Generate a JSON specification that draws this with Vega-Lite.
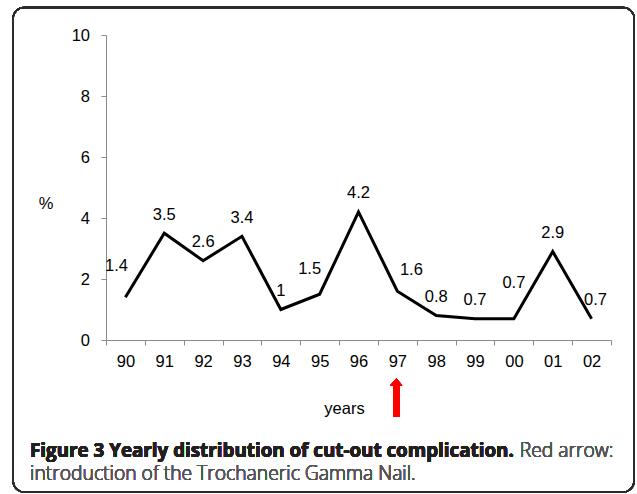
{
  "$schema": "https://vega.github.io/schema/vega-lite/v6.json",
  "width": 505,
  "height": 305,
  "autosize": {"type": "none"},
  "padding": {"left": 106, "top": 35, "right": 26, "bottom": 154},
  "background": "white",
  "config": {
    "view": {"stroke": null},
    "font": "Liberation Sans",
    "axis": {
      "domainColor": "#8a8a8a",
      "tickColor": "#8a8a8a",
      "tickSize": 5,
      "labelFontSize": 16.5,
      "labelColor": "#000000",
      "titleFontSize": 16.5,
      "titleFontWeight": "normal",
      "titleColor": "#000000",
      "grid": false
    }
  },
  "datasets": {
    "series": [
      {"year": "90", "pct": 1.4},
      {"year": "91", "pct": 3.5},
      {"year": "92", "pct": 2.6},
      {"year": "93", "pct": 3.4},
      {"year": "94", "pct": 1},
      {"year": "95", "pct": 1.5},
      {"year": "96", "pct": 4.2},
      {"year": "97", "pct": 1.6},
      {"year": "98", "pct": 0.8},
      {"year": "99", "pct": 0.7},
      {"year": "00", "pct": 0.7},
      {"year": "01", "pct": 2.9},
      {"year": "02", "pct": 0.7}
    ]
  },
  "data": {"name": "series"},
  "layer": [
    {
      "mark": {"type": "line", "color": "#000000", "strokeWidth": 3, "strokeJoin": "miter"},
      "encoding": {
        "x": {
          "field": "year", "type": "ordinal", "sort": null, "bandPosition": 0.5,
          "scale": {"type": "band", "paddingInner": 0, "paddingOuter": 0,
                    "domain": ["90", "91", "92", "93", "94", "95", "96", "97", "98", "99", "00", "01", "02"]},
          "axis": {
            "title": "years", "labelAngle": 0, "tickBand": "extent",
            "labelBaseline": "middle", "labelPadding": 16,
            "titleX": 238, "titleY": 73, "titleAlign": "center", "titleBaseline": "alphabetic"
          }
        },
        "y": {
          "field": "pct", "type": "quantitative",
          "scale": {"domain": [0, 10], "nice": false, "zero": true},
          "axis": {
            "title": "%", "values": [0, 2, 4, 6, 8, 10], "labelPadding": 11.5,
            "titleAngle": 0, "titleX": -60.5, "titleY": 168.5, "titleAlign": "center", "titleBaseline": "middle"
          }
        }
      }
    },
    {
      "mark": {"type": "rect", "fill": null, "stroke": "#2b2b2b", "strokeWidth": 1.5, "cornerRadius": 11},
      "encoding": {
        "x": {"datum": "90", "bandPosition": -2.392, "type": "ordinal"},
        "x2": {"datum": "02", "bandPosition": 1.595},
        "y": {"datum": 10.9, "type": "quantitative"},
        "y2": {"datum": -4.98}
      }
    },
    {
      "transform": [{"filter": "datum.year != '90' && datum.year != '95' && datum.year != '97' && datum.year != '00' && datum.year != '02'"}],
      "mark": {"type": "text", "fontSize": 16.5, "color": "#000000", "dy": -18.5, "baseline": "middle"},
      "encoding": {
        "x": {"field": "year", "type": "ordinal", "sort": null, "bandPosition": 0.5},
        "y": {"field": "pct", "type": "quantitative"},
        "text": {"field": "pct", "type": "quantitative"}
      }
    },
    {
      "transform": [{"filter": "datum.year == '90'"}],
      "mark": {"type": "text", "fontSize": 16.5, "color": "#000000", "dx": -9, "dy": -31, "baseline": "middle"},
      "encoding": {
        "x": {"field": "year", "type": "ordinal", "sort": null, "bandPosition": 0.5},
        "y": {"field": "pct", "type": "quantitative"},
        "text": {"field": "pct", "type": "quantitative"}
      }
    },
    {
      "transform": [{"filter": "datum.year == '95'"}],
      "mark": {"type": "text", "fontSize": 16.5, "color": "#000000", "dx": -10, "dy": -25, "baseline": "middle"},
      "encoding": {
        "x": {"field": "year", "type": "ordinal", "sort": null, "bandPosition": 0.5},
        "y": {"field": "pct", "type": "quantitative"},
        "text": {"field": "pct", "type": "quantitative"}
      }
    },
    {
      "transform": [{"filter": "datum.year == '97'"}],
      "mark": {"type": "text", "fontSize": 16.5, "color": "#000000", "dx": 14, "dy": -21, "baseline": "middle"},
      "encoding": {
        "x": {"field": "year", "type": "ordinal", "sort": null, "bandPosition": 0.5},
        "y": {"field": "pct", "type": "quantitative"},
        "text": {"field": "pct", "type": "quantitative"}
      }
    },
    {
      "transform": [{"filter": "datum.year == '00'"}],
      "mark": {"type": "text", "fontSize": 16.5, "color": "#000000", "dy": -36, "baseline": "middle"},
      "encoding": {
        "x": {"field": "year", "type": "ordinal", "sort": null, "bandPosition": 0.5},
        "y": {"field": "pct", "type": "quantitative"},
        "text": {"field": "pct", "type": "quantitative"}
      }
    },
    {
      "transform": [{"filter": "datum.year == '02'"}],
      "mark": {"type": "text", "fontSize": 16.5, "color": "#000000", "dx": 4, "dy": -18.5, "baseline": "middle"},
      "encoding": {
        "x": {"field": "year", "type": "ordinal", "sort": null, "bandPosition": 0.5},
        "y": {"field": "pct", "type": "quantitative"},
        "text": {"field": "pct", "type": "quantitative"}
      }
    },
    {
      "mark": {"type": "rule", "color": "#ff0000", "strokeWidth": 6.5},
      "encoding": {
        "x": {"datum": "97", "bandPosition": 0.473, "type": "ordinal"},
        "y": {"datum": -1.45},
        "y2": {"datum": -2.52}
      }
    },
    {
      "mark": {"type": "point", "shape": "M-1,0L1,0L0,-1.1Z", "filled": true, "color": "#ff0000", "opacity": 1, "size": 144, "strokeWidth": 0},
      "encoding": {
        "x": {"datum": "97", "bandPosition": 0.473, "type": "ordinal"},
        "y": {"datum": -1.482}
      }
    },
    {
      "mark": {"type": "text", "font": "Open Sans", "fontSize": 18.8, "fontWeight": "bold", "color": "#231f20", "align": "left", "baseline": "alphabetic"},
      "encoding": {
        "x": {"datum": "90", "bandPosition": -1.955, "type": "ordinal"},
        "y": {"datum": -3.833},
        "text": {"value": "Figure 3 Yearly distribution of cut-out complication."}
      }
    },
    {
      "mark": {"type": "text", "font": "Open Sans", "fontSize": 19.3, "fontWeight": 300, "color": "#555555", "align": "left", "baseline": "alphabetic"},
      "encoding": {
        "x": {"datum": "00", "bandPosition": 0.65, "type": "ordinal"},
        "y": {"datum": -3.833},
        "text": {"value": "Red arrow:"}
      }
    },
    {
      "mark": {"type": "text", "font": "Open Sans", "fontSize": 19.3, "fontWeight": 300, "color": "#555555", "align": "left", "baseline": "alphabetic"},
      "encoding": {
        "x": {"datum": "90", "bandPosition": -1.955, "type": "ordinal"},
        "y": {"datum": -4.597},
        "text": {"value": "introduction of the Trochaneric Gamma Nail."}
      }
    }
  ]
}
